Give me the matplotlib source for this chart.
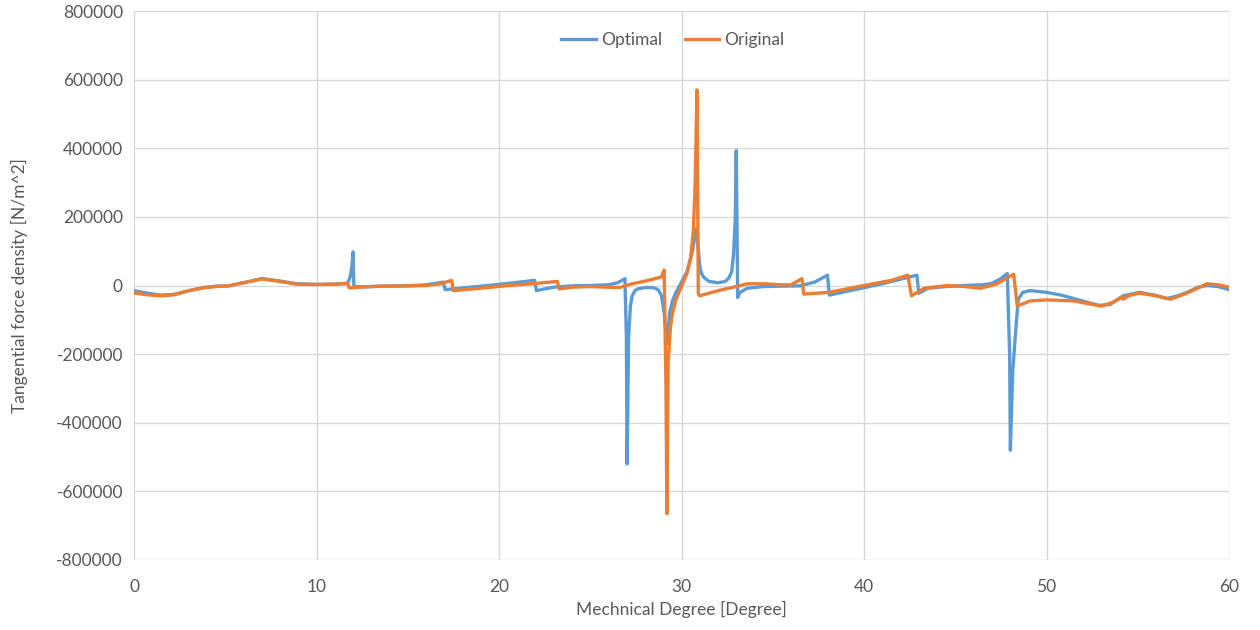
import matplotlib
matplotlib.use("Agg")
import matplotlib.pyplot as plt

optimal_x = [0, 0.7, 1.4, 2.2, 3.0, 3.8, 4.5, 5.2, 6.0, 7.0, 8.0, 8.9, 10.0, 11.0, 11.7, 11.85, 11.95, 12.0, 12.05,
             12.5, 13.5, 15.0, 16.0, 16.5, 16.95, 17.05, 17.5, 19.0, 20.5, 21.95, 22.05, 22.5, 23.0, 24.0, 25.0,
             26.0, 26.5, 26.9, 26.98, 27.02, 27.1, 27.2, 27.3, 27.45, 27.6, 28.0, 28.4, 28.6, 28.75, 28.9, 29.05, 29.2, 29.35, 29.5,
             29.7, 30.0, 30.3, 30.6, 30.8, 30.9, 31.0, 31.1, 31.2, 31.5, 32.0, 32.4, 32.6, 32.75, 32.85, 32.95, 33.0, 33.08,
             33.2, 33.6, 34.5, 35.5, 36.5, 37.3, 38.0, 38.1, 39.5, 41.0, 42.9, 43.0, 43.5, 44.5, 45.5, 46.5, 47.0,
             47.5, 47.85, 47.98, 48.02, 48.15, 48.3, 48.45, 48.7, 49.1, 50.0, 50.8, 51.5, 52.3, 52.9, 53.5, 54.2,
             55.1, 55.9, 56.6, 57.2, 57.7, 58.3, 58.8, 59.4, 60.0]
optimal_y = [-15000, -22000, -28000, -26000, -15000, -6000, -2000, -1000, 8000, 20000, 13000, 5000, 3000, 4000,
             6000, 25000, 60000, 98000, -3000,
             -4000, -2000, -1000, 2000, 6000, 10000, -12000, -10000, -2000, 6000, 15000, -15000, -10000, -5000,
             -1000, 0,
             2000, 8000, 20000, -150000, -520000, -150000, -60000, -30000, -15000, -10000, -6000, -6000, -9000, -14000, -30000, -80000,
             -170000, -80000, -45000,
             -20000, 10000, 40000, 100000, 165000, 120000, 55000, 35000, 25000, 12000, 8000, 12000, 22000, 40000, 90000, 200000,
             393000, -35000,
             -20000, -8000, -3000, -2000, -1000, 10000, 30000, -28000, -12000, 5000, 30000, -23000, -8000, -3000,
             0, 2000, 6000,
             20000, 35000, -200000, -480000, -250000, -140000, -40000, -20000, -15000, -20000, -28000, -38000,
             -50000, -58000, -55000, -30000,
             -20000, -28000, -38000, -30000, -20000, -5000, 0, -3000, -12000]

original_x = [0, 0.7, 1.5, 2.2, 3.0, 3.8, 4.5, 5.2, 6.0, 7.0, 8.0, 8.9, 10.0, 11.0, 11.7, 11.8, 12.3, 13.5, 15.0,
              16.0, 16.8, 17.4, 17.5, 19.0, 20.5, 22.0, 23.2, 23.3, 24.0, 25.0, 26.0, 26.6, 27.3, 28.2, 28.9,
              29.05, 29.15, 29.2, 29.27, 29.4, 29.5, 29.7, 29.9, 30.3, 30.5, 30.65, 30.75, 30.85, 30.92, 31.0,
              32.0, 33.0, 33.6, 34.5, 35.5, 36.0, 36.6, 36.7, 38.1, 40.0, 41.5, 42.4, 42.6, 43.3, 44.6, 45.5,
              46.4, 47.3, 48.2, 48.4, 49.1, 50.0, 51.5, 52.2, 53.0, 53.6, 54.1, 54.2, 54.5, 55.1, 56.0, 56.8,
              57.7, 58.8, 59.4, 60.0]
original_y = [-22000, -27000, -30000, -27000, -15000, -7000, -3000, -1000, 8000, 19000, 12000, 4000, 3000, 4000,
              6000, -7000, -5000, -2000, -1000,
              0, 5000, 15000, -15000, -8000, 0, 6000, 12000, -10000, -5000, -3000, -5000, -6000, 5000, 15000,
              25000,
              45000, -300000, -665000, -220000, -120000, -82000, -40000, -15000, 35000, 80000, 160000, 300000,
              570000, -25000, -30000,
              -15000, -3000, 5000, 5000, 2000, 2000, 20000, -25000, -20000, 0, 15000, 30000, -30000, -8000, 0,
              -3000,
              -8000, 5000, 33000, -60000, -45000, -42000, -45000, -52000, -60000, -50000, -35000, -40000, -30000,
              -22000, -30000, -40000,
              -22000, 5000, 2000, -5000]

x_ticks = [0, 10, 20, 30, 40, 50, 60]
y_ticks = [-800000, -600000, -400000, -200000, 0, 200000, 400000, 600000, 800000]

plt.rcParams['font.family'] = ['Lato', 'DejaVu Sans']
text_color = '#595959'
grid_color = '#D9D9D9'

fig = plt.figure(figsize=(12.6, 6.3), dpi=100)
ax = fig.add_axes([134 / 1260, 1 - 560 / 630, (1229 - 134) / 1260, (560 - 11) / 630])

ax.plot(optimal_x, optimal_y, color='#5B9BD5', lw=2.4, label='Optimal', solid_joinstyle='round')
ax.plot(original_x, original_y, color='#ED7D31', lw=2.4, label='Original', solid_joinstyle='round')

ax.set_xlim(0, 60)
ax.set_ylim(-800000, 800000)
ax.set_xticks(x_ticks)
ax.set_yticks(y_ticks)
ax.set_yticklabels([str(v) for v in y_ticks])
ax.grid(True, color=grid_color, lw=1)
ax.set_axisbelow(True)
for s in ax.spines.values():
    s.set_visible(False)
ax.tick_params(length=0, colors=text_color, labelsize=12.5)
ax.tick_params(axis='x', pad=14)
ax.tick_params(axis='y', pad=8)
ax.set_xlabel('Mechnical Degree [Degree]', color=text_color, fontsize=12.5, labelpad=4)
ax.set_ylabel('Tangential force density [N/m^2]', color=text_color, fontsize=12.5, labelpad=20)

leg = ax.legend(loc='upper center', ncol=2, frameon=False, fontsize=12.5, bbox_to_anchor=(0.492, 0.99),
                handlelength=2.0, columnspacing=1.3, handletextpad=0.3)
for t in leg.get_texts():
    t.set_color(text_color)

fig.savefig('out.png', dpi=100, facecolor='white')
